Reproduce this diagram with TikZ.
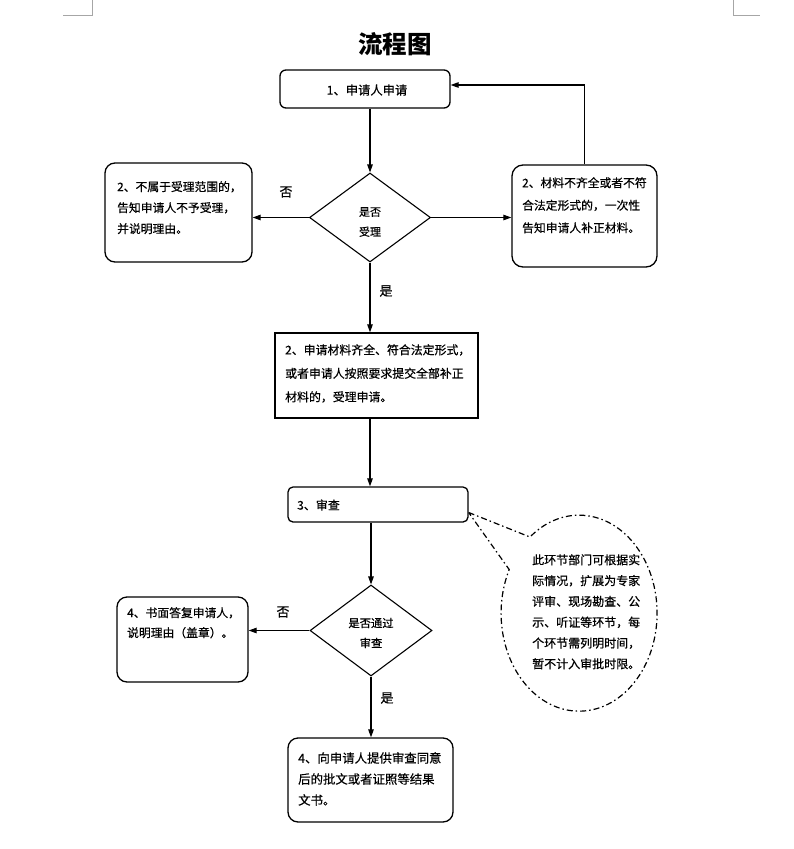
\documentclass[tikz,border=0pt]{standalone}
\usepackage{fontspec}
\setmainfont{Noto Sans CJK SC}[FakeBold=0.5]
\newfontfamily\titlefont{Noto Sans CJK SC}
\usetikzlibrary{arrows.meta,shapes.geometric}
\tikzset{
  box/.style={draw, line width=1.3pt, inner sep=0pt, minimum width=#1},
  dia/.style={draw, line width=1.1pt, shape=diamond, inner sep=0pt},
  arr/.style={line width=1.1pt, -{Triangle[length=8pt,width=5.5pt]}},
  txt/.style={anchor=north west, inner sep=0pt, align=left, text width=200pt},
  ctxt/.style={inner sep=0pt, align=center},
  lbl/.style={inner sep=0pt, font={\fontsize{13}{13}\selectfont}},
  cornermark/.style={draw=gray!70, line width=0.8pt},
  callout/.style={line width=1.2pt, dash pattern=on 6pt off 3pt on 1.5pt off 3pt}
}
\begin{document}
\begin{tikzpicture}[x=1pt,y=-1pt]
\useasboundingbox (0,0) rectangle (793,849);
% corner marks
\draw[cornermark] (92,0) -- (92,15) -- (63,15);
\draw[cornermark] (733,0) -- (733,15) -- (760,15);
% title
\node[inner sep=0pt, font={\titlefont\fontsize{24.5}{24.5}\selectfont\bfseries}] (title) at (395,44) {流程图};
% shapes
\node[box=170pt, minimum height=38pt, rounded corners=6pt] (b1) at (365,89) {};
\node[dia, minimum width=121pt, minimum height=89pt] (d1) at (370,217.5) {};
\node[box=147pt, minimum height=99pt, rounded corners=10pt] (bA) at (178.5,212.5) {};
\node[box=145pt, minimum height=102pt, rounded corners=11pt] (bB) at (584.5,216) {};
\node[box=203pt, minimum height=85pt] (bC) at (376.5,375.5) {};
\node[box=180pt, minimum height=35pt, rounded corners=5pt] (bD) at (378,504.5) {};
\node[dia, minimum width=122pt, minimum height=91pt] (d2) at (371,630.5) {};
\node[box=131pt, minimum height=85pt, rounded corners=10pt] (bE) at (182.5,639.5) {};
\node[box=165pt, minimum height=84pt, rounded corners=10pt] (bF) at (370.5,780) {};
% texts
\node[ctxt, font={\fontsize{12.3}{14}\selectfont}] (t1) at (367,90) {1、申请人申请};
\node[ctxt, font={\fontsize{11}{20}\selectfont}] (td1) at (370,222) {是否\\受理};
\node[txt, font={\fontsize{11.8}{21}\selectfont}] (tA) at (117,181) {2、不属于受理范围的，\\告知申请人不予受理，\\并说明理由。};
\node[txt, font={\fontsize{11.8}{22.5}\selectfont}] (tB) at (522,177) {2、材料不齐全或者不符\\合法定形式的，一次性\\告知申请人补正材料。};
\node[txt, font={\fontsize{11.9}{23.5}\selectfont}] (tC) at (285,344) {2、申请材料齐全、符合法定形式，\\或者申请人按照要求提交全部补正\\材料的，受理申请。};
\node[anchor=west, inner sep=0pt, font={\fontsize{12}{14}\selectfont}] (tD) at (297,505) {3、审查};
\node[ctxt, font={\fontsize{11.3}{20}\selectfont}] (td2) at (371,633) {是否通过\\审查};
\node[txt, font={\fontsize{11.8}{20}\selectfont}] (tE) at (127,607) {4、书面答复申请人，\\说明理由（盖章）。};
\node[txt, font={\fontsize{12.4}{21}\selectfont}] (tF) at (298,752) {4、向申请人提供审查同意\\后的批文或者证照等结果\\文书。};
\node[txt, font={\fontsize{12}{20.8}\selectfont}] (tG) at (532,554) {此环节部门可根据实\\际情况，扩展为专家\\评审、现场勘查、公\\示、听证等环节，每\\个环节需列明时间，\\暂不计入审批时限。};
% labels
\node[lbl] (n1) at (286,192) {否};
\node[lbl] (y1) at (386,291) {是};
\node[lbl] (n2) at (283,612) {否};
\node[lbl] (y2) at (387,698) {是};
% connectors
\draw[arr] (d1.north |- b1.south) -- (d1.north);
\draw[arr] (d1.west) -- (d1.west -| bA.east);
\draw[arr] (d1.east) -- (d1.east -| bB.west);
\draw[arr] (bB.north) |- ([yshift=4pt]b1.east);
\draw[arr] (d1.south) -- (d1.south |- bC.north);
\draw[arr] (d1.south |- bC.south) -- (d1.south |- bD.north);
\draw[arr] (d2.north |- bD.south) -- (d2.north);
\draw[arr] (d2.west) -- (d2.west -| bE.east);
\draw[arr] (d2.south) -- (d2.south |- bF.north);
% callout
\coordinate (cp) at ([yshift=-8pt]bD.east);
\draw[callout] (cp) -- (530,537) arc[start angle=129, end angle=-206.4, x radius=78pt, y radius=98pt] -- (cp);
\end{tikzpicture}
\end{document}
